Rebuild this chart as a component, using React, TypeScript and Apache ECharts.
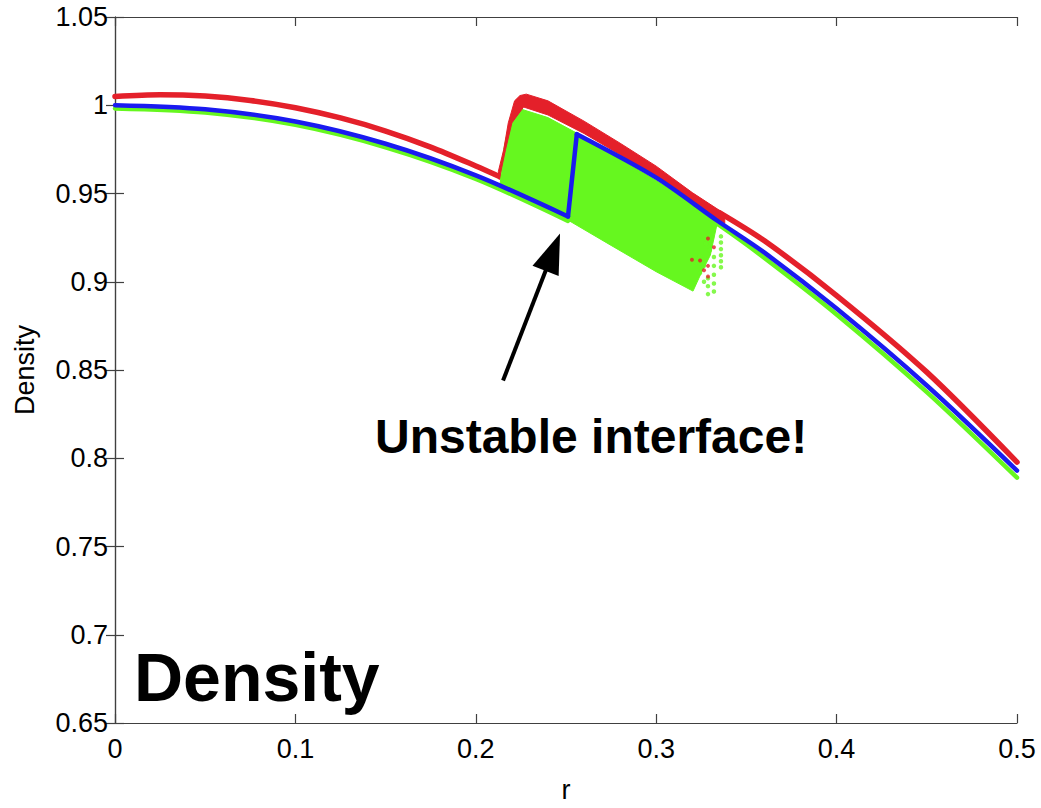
import { useEffect, useRef } from "react";
import * as echarts from "echarts";

// ---- data ----
const X_TICKS_INTERVAL = 0.1;
const Y_TICKS_INTERVAL = 0.05;

const RED_INNER: [number, number][] = [
  [0, 1.005], [0.025, 1.006], [0.05, 1.0052], [0.075, 1.0027], [0.1, 0.9986],
  [0.125, 0.9928], [0.15, 0.9854], [0.175, 0.9763], [0.2, 0.9656], [0.2134, 0.9595],
];
const RED_OUTER: [number, number][] = [
  [0.335, 0.9392], [0.36, 0.9232], [0.4, 0.8922], [0.45, 0.8488], [0.5, 0.7978],
];
const RED_BAND: [number, number][] = [
  [0.2125, 0.9625], [0.2155, 0.975], [0.218, 0.99], [0.2215, 1.0025], [0.2245, 1.0055],
  [0.228, 1.0063], [0.24, 1.0025], [0.26, 0.991], [0.28, 0.9785], [0.3, 0.9655],
  [0.32, 0.9505], [0.338, 0.9385],
  [0.338, 0.933], [0.32, 0.945], [0.3, 0.959], [0.28, 0.972], [0.26, 0.984],
  [0.24, 0.9945], [0.2265, 0.999], [0.22, 0.99], [0.2165, 0.975], [0.213, 0.958],
];
const BLUE_INNER: [number, number][] = [
  [0, 1.0], [0.05, 0.9977], [0.1, 0.9908], [0.15, 0.9782], [0.2, 0.9603], [0.2511, 0.937],
];
const BLUE_JUMP: [number, number][] = [[0.2511, 0.937], [0.256, 0.9836]];
const BLUE_OUTER: [number, number][] = [
  [0.256, 0.9836], [0.3, 0.959], [0.3337, 0.9347], [0.36, 0.9165], [0.4, 0.8848],
  [0.45, 0.8412], [0.5, 0.793],
];
const GREEN_INNER: [number, number][] = [
  [0, 0.9982], [0.05, 0.9959], [0.1, 0.9889], [0.15, 0.9762], [0.2, 0.9583], [0.2511, 0.9345],
];
const GREEN_OUTER: [number, number][] = [
  [0.256, 0.981], [0.3, 0.9562], [0.335, 0.932], [0.36, 0.9135], [0.4, 0.8815],
  [0.45, 0.8375], [0.5, 0.789],
];
const GREEN_BAND: [number, number][] = [
  [0.2134, 0.9545], [0.2155, 0.975], [0.219, 0.992], [0.2245, 0.998], [0.24, 0.993],
  [0.26, 0.982], [0.3, 0.957], [0.334, 0.934],
  [0.33, 0.915], [0.325, 0.905], [0.3204, 0.8947],
  [0.3, 0.9057], [0.275, 0.9206], [0.251, 0.935], [0.23, 0.945], [0.2134, 0.9525],
];
const GREEN_DOTS: [number, number][] = [
  [0.3359, 0.9257], [0.3359, 0.9222], [0.3359, 0.9185], [0.3359, 0.915], [0.3359, 0.9116],
  [0.3359, 0.9082], [0.332, 0.914], [0.332, 0.909], [0.332, 0.904], [0.332, 0.899],
  [0.332, 0.8945], [0.3287, 0.902], [0.3287, 0.8975], [0.3287, 0.893], [0.3265, 0.9],
  [0.3243, 0.905], [0.3265, 0.909], [0.3243, 0.9145], [0.322, 0.911], [0.3298, 0.918],
  [0.3276, 0.9215], [0.3309, 0.925],
];
const RED_DOTS: [number, number][] = [
  [0.3287, 0.9245], [0.332, 0.9195], [0.3265, 0.9065], [0.3243, 0.912], [0.3198, 0.9125],
  [0.3287, 0.903], [0.3287, 0.909],
];
const ARROW_TAIL: [number, number] = [0.2151, 0.844];
const ARROW_TIP: [number, number] = [0.2467, 0.9273];

const RED = "#e4202a";
const BLUE = "#1a1af0";
const GREEN = "#66f71f";
const FONT = "Liberation Sans, Arial, Helvetica, sans-serif";

const polySeries = (pts: [number, number][], color: string, z: number) => ({
  type: "custom",
  silent: true,
  z,
  data: [[0.3, 0.95]],
  renderItem: (_p: any, api: any) => ({
    type: "polygon",
    shape: { points: pts.map((p) => api.coord(p)) },
    style: { fill: color, stroke: color, lineWidth: 1, lineJoin: "round" },
  }),
});

const lineSeries = (
  pts: [number, number][],
  color: string,
  width: number,
  z: number,
  smooth = true
) => ({
  type: "line",
  data: pts,
  showSymbol: false,
  symbol: "none",
  silent: true,
  smooth: smooth ? 0.3 : false,
  z,
  lineStyle: { color, width, cap: "round", join: "round" },
});

export default function App() {
  const ref = useRef<HTMLDivElement>(null);
  useEffect(() => {
    if (!ref.current) return;
    const chart = echarts.init(ref.current, undefined, { renderer: "svg" });
    const axisCommon = {
      type: "value",
      axisLine: { show: true, lineStyle: { color: "#404040", width: 1.2 } },
      axisTick: { show: true, inside: true, length: 9, lineStyle: { color: "#404040", width: 1.2 } },
      splitLine: { show: false },
    };
    const fmt = (v: number) => String(parseFloat(v.toFixed(2)));
    chart.setOption({
      animation: false,
      backgroundColor: "#ffffff",
      grid: { left: 115, right: 24, top: 17, bottom: 80 },
      xAxis: [
        {
          ...axisCommon,
          position: "bottom",
          min: 0,
          max: 0.5,
          interval: X_TICKS_INTERVAL,
          name: "r",
          nameLocation: "middle",
          nameGap: 53,
          nameTextStyle: { fontFamily: FONT, fontSize: 27, color: "#000" },
          axisLabel: { formatter: fmt, margin: 12, fontFamily: FONT, fontSize: 27, color: "#000" },
        },
        {
          ...axisCommon,
          position: "top",
          min: 0,
          max: 0.5,
          interval: X_TICKS_INTERVAL,
          axisLabel: { show: false },
        },
      ],
      yAxis: [
        {
          ...axisCommon,
          position: "left",
          min: 0.65,
          max: 1.05,
          interval: Y_TICKS_INTERVAL,
          name: "Density",
          nameLocation: "middle",
          nameGap: 77,
          nameTextStyle: { fontFamily: FONT, fontSize: 27, color: "#000" },
          axisLabel: { formatter: fmt, margin: 7, fontFamily: FONT, fontSize: 27, color: "#000" },
        },
        {
          ...axisCommon,
          position: "right",
          min: 0.65,
          max: 1.05,
          interval: Y_TICKS_INTERVAL,
          axisLabel: { show: false },
        },
      ],
      series: [
        lineSeries(RED_INNER, RED, 5.5, 2),
        lineSeries(RED_OUTER, RED, 5.5, 2),
        polySeries(GREEN_BAND, GREEN, 3),
        polySeries(RED_BAND, RED, 4),
        lineSeries(GREEN_INNER, GREEN, 4.5, 5),
        lineSeries(GREEN_OUTER, GREEN, 4.5, 5),
        {
          type: "scatter",
          data: GREEN_DOTS,
          symbolSize: 4.5,
          silent: true,
          z: 5,
          itemStyle: { color: GREEN },
        },
        {
          type: "scatter",
          data: RED_DOTS,
          symbolSize: 4,
          silent: true,
          z: 6,
          itemStyle: { color: RED },
        },
        lineSeries(BLUE_INNER, BLUE, 4.5, 7),
        lineSeries(BLUE_JUMP, BLUE, 4.5, 7, false),
        lineSeries(BLUE_OUTER, BLUE, 4.5, 7),
      ],
    });

    const tail = chart.convertToPixel({ gridIndex: 0 }, ARROW_TAIL) as number[];
    const tip = chart.convertToPixel({ gridIndex: 0 }, ARROW_TIP) as number[];
    const dx = tip[0] - tail[0];
    const dy = tip[1] - tail[1];
    const len = Math.hypot(dx, dy);
    const ux = dx / len, uy = dy / len;
    const nx = -uy, ny = ux;
    const headLen = 40, halfW = 14;
    const bx = tip[0] - ux * headLen, by = tip[1] - uy * headLen;

    chart.setOption({
      graphic: [
        {
          type: "line",
          shape: { x1: tail[0], y1: tail[1], x2: bx + ux * 2, y2: by + uy * 2 },
          style: { stroke: "#000", lineWidth: 4 },
          z: 100,
        },
        {
          type: "polygon",
          shape: {
            points: [
              [tip[0], tip[1]],
              [bx + nx * halfW, by + ny * halfW],
              [bx - nx * halfW, by - ny * halfW],
            ],
          },
          style: { fill: "#000" },
          z: 100,
        },
        {
          type: "text",
          x: 375,
          y: 436,
          style: {
            text: "Unstable interface!",
            fontFamily: FONT,
            fontWeight: "bold",
            fontSize: 48,
            fill: "#000",
            align: "left",
            verticalAlign: "middle",
          },
          z: 100,
        },
        {
          type: "text",
          x: 134,
          y: 677,
          style: {
            text: "Density",
            fontFamily: FONT,
            fontWeight: "bold",
            fontSize: 68,
            fill: "#000",
            align: "left",
            verticalAlign: "middle",
          },
          z: 100,
        },
      ],
    });

    return () => chart.dispose();
  }, []);
  return (
    <div
      ref={ref}
      style={{ position: "absolute", left: 0, top: 0, width: 1041, height: 808, background: "#fff" }}
    />
  );
}
